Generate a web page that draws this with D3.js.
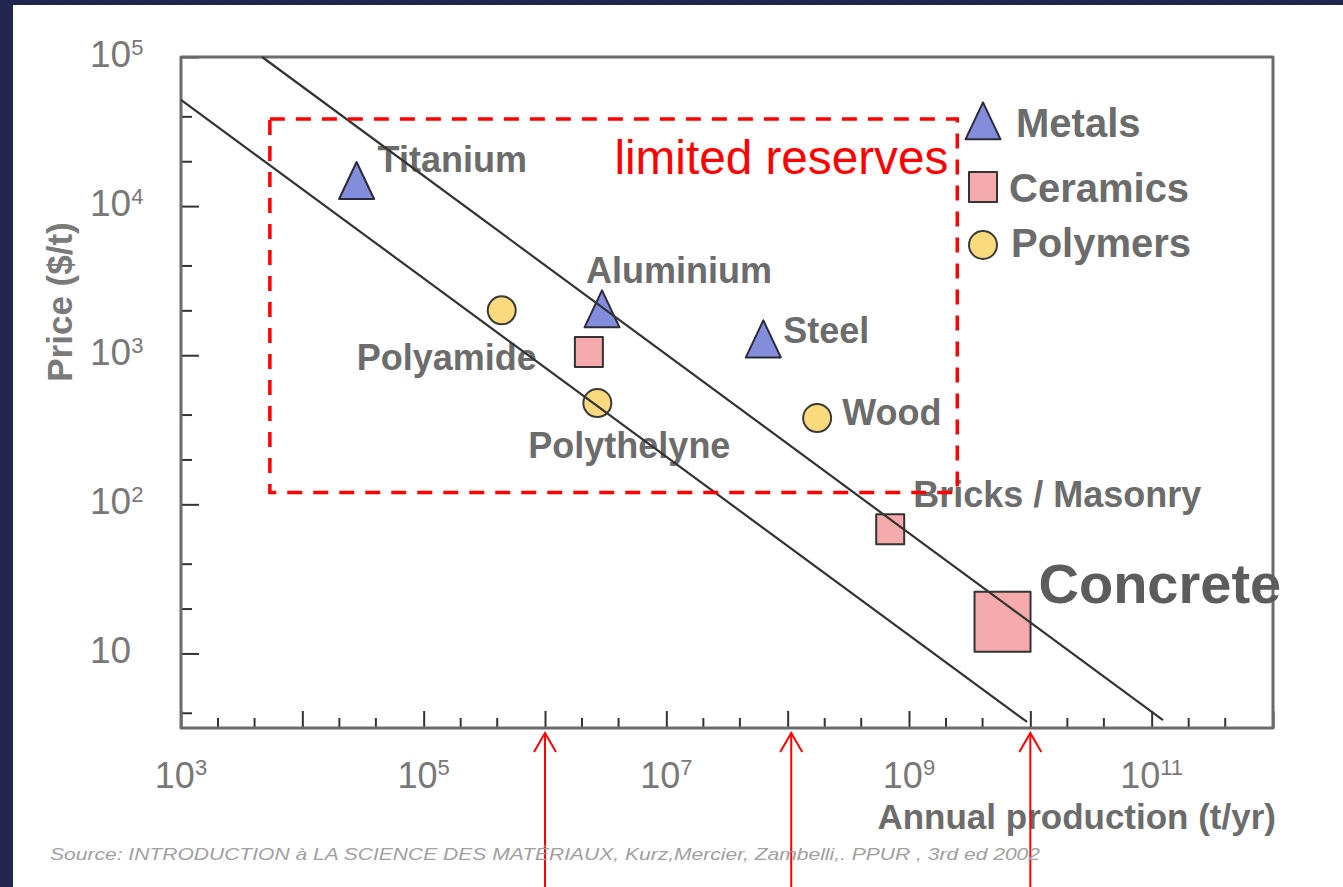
<!DOCTYPE html>
<html>
<head>
<meta charset="utf-8">
<script src="https://cdn.jsdelivr.net/npm/d3@7"></script>
<style>
  html, body { margin: 0; padding: 0; background: #22264e; }
  svg { display: block; }
</style>
</head>
<body>
<svg id="chart" width="1343" height="887"></svg>
<script>
// Materials: annual production (t/yr) against price ($/t)
const materials  = ["Titanium", "Aluminium", "Steel", "Polyamide", "", "Polythelyne", "Wood", "Bricks / Masonry", "Concrete"];
const families   = ["Metals", "Metals", "Metals", "Polymers", "Ceramics", "Polymers", "Polymers", "Ceramics", "Ceramics"];
const production = [2.8e4, 2.95e6, 6.3e7, 4.4e5, 2.3e6, 2.7e6, 1.75e8, 7.0e8, 5.9e9];
const price      = [1.35e4, 1.86e3, 1.17e3, 2.0e3, 1.05e3, 478, 379, 68, 16.3];

const legendFamilies = ["Metals", "Ceramics", "Polymers"];

// Two guide lines of constant market value, given by their end points (production, price)
const upperTrendProduction = [4.66e3, 1.24e11];
const upperTrendPrice      = [1e5, 3.57];
const lowerTrendProduction = [1e3, 9.4e9];
const lowerTrendPrice      = [5.15e4, 3.47];

// "limited reserves" region (production range, price range)
const reservesProduction = [5.4e3, 2.5e9];
const reservesPrice      = [120, 3.84e4];
const reservesLabel = "limited reserves";

// Production levels marked by arrows under the axis
const arrowProduction = [1e6, 1.07e8, 1e10];

// Axis ticks
const xLabelExponents = [3, 5, 7, 9, 11];
const yLabelExponents = [1, 2, 3, 4, 5];
const xMajorTicks = [1e3, 1e4, 1e5, 1e6, 1e7, 1e8, 1e9, 1e10, 1e11, 1e12];
const yMajorTicks = [10, 1e2, 1e3, 1e4, 1e5];
const minorMultipliers = [2, 4];

const xTitle = "Annual production (t/yr)";
const yTitle = "Price ($/t)";
const sourceNote = "Source: INTRODUCTION à LA SCIENCE DES MATÉRIAUX, Kurz,Mercier, Zambelli,. PPUR , 3rd ed 2002";

// ---------------------------------------------------------------------------
const FONT = "'Liberation Sans', Arial, Helvetica, sans-serif";
const TEXT_GREY = "#6c6c6c";
const familyStyle = {
  Metals:   { fill: "#828ddb", stroke: "#2b2b3a" },
  Ceramics: { fill: "#f5abab", stroke: "#333333" },
  Polymers: { fill: "#fbda7e", stroke: "#3a3a3a" }
};
// label anchor relative to the marker centre (text start, baseline)
const labelOffset = {
  "Titanium": [21, -15],
  "Aluminium": [-16, -32],
  "Steel": [20, -2],
  "Polyamide": [-145, 60],
  "Polythelyne": [-69, 55],
  "Wood": [25, 7],
  "Bricks / Masonry": [23, -22],
  "Concrete": [36, -19]
};
const emphasised = new Set(["Concrete"]);

const svg = d3.select("#chart");

// white slide panel
svg.append("rect")
  .attr("x", 13).attr("y", 5)
  .attr("width", 1330).attr("height", 882)
  .attr("fill", "#ffffff");

const x = d3.scaleLog().domain([1e3, 1e12]).range([181, 1273]);
const y = d3.scaleLog().domain([Math.sqrt(10), 1e5]).range([728, 57]);

const [x0, x1] = x.range();
const [y0, y1] = y.range();

// minor tick values
const xMinorTicks = [];
xMajorTicks.slice(0, -1).forEach(d => minorMultipliers.forEach(m => xMinorTicks.push(d * m)));
const yMinorTicks = [];
[1, 10, 1e2, 1e3, 1e4].forEach(d => minorMultipliers.forEach(m => {
  const v = d * m;
  if (v >= y.domain()[0] && v <= y.domain()[1]) yMinorTicks.push(v);
}));

function styleAxis(g) {
  g.select(".domain").remove();
  g.selectAll(".tick line").attr("stroke", "#333").attr("stroke-width", 2);
  g.selectAll(".tick text").remove();
}

// inward ticks
svg.append("g").attr("transform", `translate(0,${y0})`)
  .call(d3.axisBottom(x).tickValues(xMajorTicks).tickSize(-17).tickFormat(""))
  .call(styleAxis);
svg.append("g").attr("transform", `translate(0,${y0})`)
  .call(d3.axisBottom(x).tickValues(xMinorTicks).tickSize(-10).tickFormat(""))
  .call(styleAxis);
svg.append("g").attr("transform", `translate(${x0},0)`)
  .call(d3.axisLeft(y).tickValues(yMajorTicks).tickSize(-18).tickFormat(""))
  .call(styleAxis);
svg.append("g").attr("transform", `translate(${x0},0)`)
  .call(d3.axisLeft(y).tickValues(yMinorTicks).tickSize(-11).tickFormat(""))
  .call(styleAxis);

// plot frame
svg.append("rect")
  .attr("x", x0).attr("y", y1)
  .attr("width", x1 - x0).attr("height", y0 - y1)
  .attr("fill", "none")
  .attr("stroke", "#6b6b6b")
  .attr("stroke-width", 3)
  .attr("stroke-linejoin", "round");

// tick labels, powers of ten with superscript exponents
const xLab = svg.append("g").attr("font-family", FONT).attr("fill", "#787878");
xLabelExponents.forEach(e => {
  const t = xLab.append("text")
    .attr("x", x(Math.pow(10, e)))
    .attr("y", 788)
    .attr("text-anchor", "middle")
    .attr("font-size", 36);
  t.append("tspan").text("10");
  t.append("tspan").attr("font-size", 22).attr("dy", -13).text(e);
});

const yLab = svg.append("g").attr("font-family", FONT).attr("fill", "#787878");
yLabelExponents.forEach(e => {
  const t = yLab.append("text")
    .attr("x", 90)
    .attr("y", y(Math.pow(10, e)) + 10)
    .attr("font-size", 37);
  t.append("tspan").text("10");
  if (e !== 1) t.append("tspan").attr("font-size", 22).attr("dy", -12).text(e);
});

// axis titles
svg.append("text")
  .attr("x", 1276).attr("y", 829)
  .attr("text-anchor", "end")
  .attr("font-family", FONT).attr("font-weight", "bold")
  .attr("font-size", 35).attr("fill", TEXT_GREY)
  .text(xTitle);

svg.append("text")
  .attr("transform", "translate(72,302) rotate(-90)")
  .attr("text-anchor", "middle")
  .attr("font-family", FONT).attr("font-weight", "bold")
  .attr("font-size", 35).attr("fill", "#7a7a7a")
  .text(yTitle);

// marker shapes
const TRI_W = 35, TRI_H = 37, SQ_W = 28, SQ_H = 30, CIRC_R = 14;
function drawMarker(g, family, cx, cy, scale) {
  const st = familyStyle[family];
  const k = scale || 1;
  let el;
  if (family === "Metals") {
    const w = TRI_W * k, h = TRI_H * k;
    el = g.append("path")
      .attr("d", `M${cx},${cy - 2 * h / 3} L${cx + w / 2},${cy + h / 3} L${cx - w / 2},${cy + h / 3} Z`);
  } else if (family === "Ceramics") {
    const w = SQ_W * k, h = SQ_H * k;
    el = g.append("rect")
      .attr("x", cx - w / 2).attr("y", cy - h / 2)
      .attr("width", w).attr("height", h);
  } else {
    el = g.append("circle").attr("cx", cx).attr("cy", cy).attr("r", CIRC_R * k);
  }
  el.attr("fill", st.fill).attr("stroke", st.stroke)
    .attr("stroke-width", 2).attr("stroke-linejoin", "round");
}

const markers = svg.append("g");
materials.forEach((name, i) => {
  const k = emphasised.has(name) ? 2.0 : 1;
  drawMarker(markers, families[i], x(production[i]), y(price[i]), k);
});

// material labels
const labels = svg.append("g").attr("font-family", FONT).attr("font-weight", "bold");
materials.forEach((name, i) => {
  if (!name) return;
  const off = labelOffset[name] || [20, 0];
  const big = emphasised.has(name);
  labels.append("text")
    .attr("x", x(production[i]) + off[0])
    .attr("y", y(price[i]) + off[1])
    .attr("font-size", big ? 56 : 36)
    .attr("fill", big ? "#5c5c5c" : TEXT_GREY)
    .text(name);
});

// guide lines
const line = d3.line().x(d => x(d[0])).y(d => y(d[1]));
[[upperTrendProduction, upperTrendPrice], [lowerTrendProduction, lowerTrendPrice]].forEach(([px, py]) => {
  svg.append("path")
    .attr("d", line(d3.zip(px, py)))
    .attr("fill", "none")
    .attr("stroke", "#333")
    .attr("stroke-width", 2.2);
});

// limited reserves box
svg.append("rect")
  .attr("x", x(reservesProduction[0]))
  .attr("y", y(reservesPrice[1]))
  .attr("width", x(reservesProduction[1]) - x(reservesProduction[0]))
  .attr("height", y(reservesPrice[0]) - y(reservesPrice[1]))
  .attr("fill", "none")
  .attr("stroke", "#ff0000")
  .attr("stroke-width", 3.5)
  .attr("stroke-dasharray", "15 11");

svg.append("text")
  .attr("x", x(reservesProduction[1]) - 9)
  .attr("y", 174)
  .attr("text-anchor", "end")
  .attr("font-family", FONT)
  .attr("font-size", 47.7)
  .attr("fill", "#ff0000")
  .text(reservesLabel);

// legend
const legend = svg.append("g").attr("font-family", FONT).attr("font-weight", "bold");
const legendSymbolY = [127, 187, 245];
const legendTextX = [1016, 1009, 1011];
const legendTextY = [137, 202, 257];
legendFamilies.forEach((f, i) => {
  drawMarker(legend, f, 983, legendSymbolY[i], 1);
  legend.append("text")
    .attr("x", legendTextX[i]).attr("y", legendTextY[i])
    .attr("font-size", 40).attr("fill", TEXT_GREY)
    .text(f);
});

// arrows under the axis
const arrows = svg.append("g").attr("stroke", "#ff0000").attr("stroke-width", 2).attr("fill", "none");
arrowProduction.forEach(v => {
  const ax = x(v), tip = y0 + 5;
  arrows.append("line").attr("x1", ax).attr("x2", ax).attr("y1", 890).attr("y2", tip);
  arrows.append("path").attr("d", `M${ax - 11},${tip + 19} L${ax},${tip} L${ax + 11},${tip + 19}`);
});

// source note
svg.append("text")
  .attr("x", 50).attr("y", 860)
  .attr("font-family", FONT)
  .attr("font-style", "italic")
  .attr("font-size", 17)
  .attr("fill", "#a0a0a0")
  .attr("textLength", 990)
  .attr("lengthAdjust", "spacingAndGlyphs")
  .text(sourceNote);
</script>
</body>
</html>
